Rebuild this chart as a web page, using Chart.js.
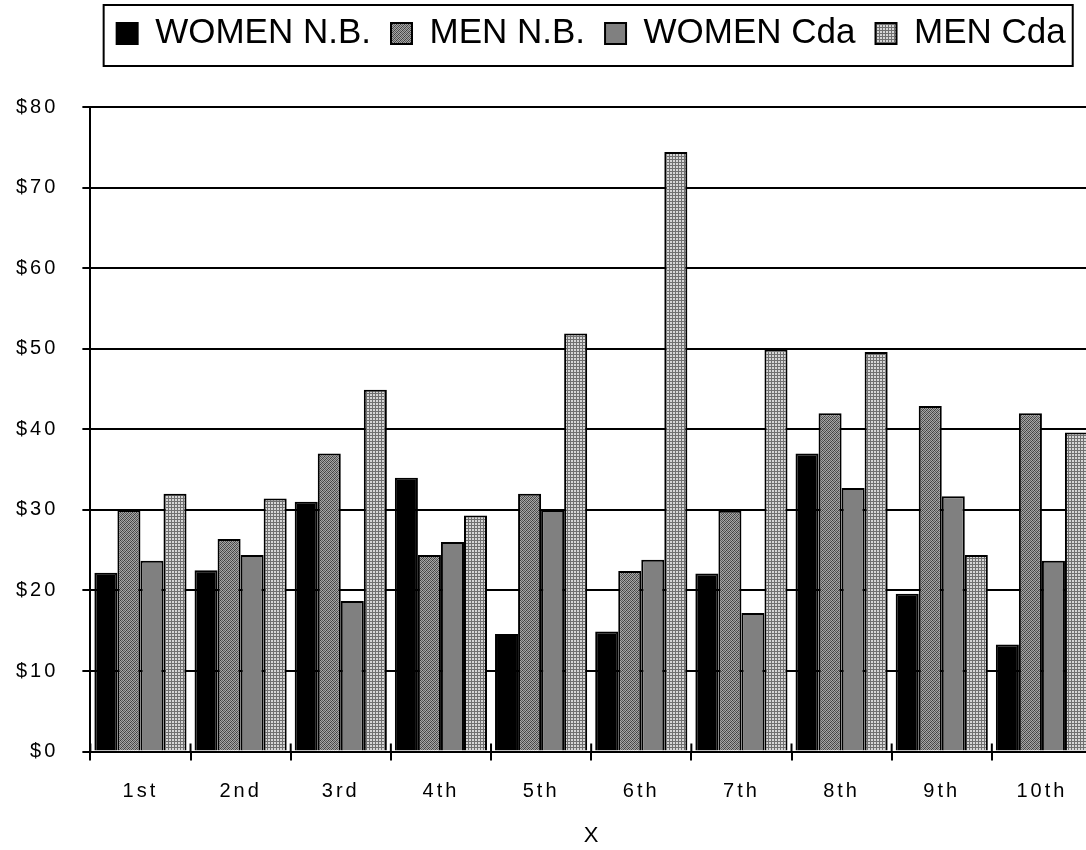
<!DOCTYPE html>
<html>
<head>
<meta charset="utf-8">
<script src="https://cdn.jsdelivr.net/npm/chart.js@4"></script>
<style>
html, body { margin: 0; padding: 0; overflow: hidden; background: #fff; }
#wrap { width: 1100px; height: 850px; }
</style>
</head>
<body>
<div id="wrap"><canvas id="chart"></canvas></div>
<script>
// values
const categories = ['1st', '2nd', '3rd', '4th', '5th', '6th', '7th', '8th', '9th', '10th'];
const womenNB  = [22.2, 22.5, 31.0, 34.0, 14.6, 14.9, 22.1, 37.0, 19.6, 13.3];
const menNB    = [30.0, 26.4, 37.0, 24.4, 32.0, 22.4, 29.9, 42.0, 42.9, 42.0];
const womenCda = [23.7, 24.4, 18.7, 26.0, 30.0, 23.8, 17.2, 32.7, 31.7, 23.7];
const menCda   = [32.0, 31.4, 44.9, 29.3, 51.9, 74.4, 49.9, 49.6, 24.4, 39.6];
const seriesNames = ['WOMEN N.B.', 'MEN N.B.', 'WOMEN Cda', 'MEN Cda'];
const axisTitle = 'X';

const FONT = "'Liberation Sans', Arial, sans-serif";
const canvas = document.getElementById('chart');
const ctx = canvas.getContext('2d');

function makePattern(size, paint) {
    const tile = document.createElement('canvas');
    tile.width = tile.height = size;
    paint(tile.getContext('2d'));
    return ctx.createPattern(tile, 'repeat');
}

// speckled dark grey
const speckle = makePattern(4, g => {
    const v = [[60, 160, 100, 170], [170, 90, 160, 70], [100, 170, 60, 160], [160, 70, 170, 90]];
    for (let y = 0; y < 4; y++) {
        for (let x = 0; x < 4; x++) {
            g.fillStyle = `rgb(${v[y][x]},${v[y][x]},${v[y][x]})`;
            g.fillRect(x, y, 1, 1);
        }
    }
});

// light grid
const gridFill = makePattern(3, g => {
    g.fillStyle = '#d6d6d6';
    g.fillRect(0, 0, 3, 3);
    g.fillStyle = '#707070';
    g.fillRect(0, 0, 3, 1);
    g.fillRect(0, 0, 1, 3);
});

const fills = ['#000000', speckle, '#808080', gridFill];
const values = [womenNB, menNB, womenCda, menCda];

// letter spaced tick labels
const spacedTicks = {
    id: 'spacedTicks',
    afterLayout(chart) {
        ['x', 'y'].forEach(id => {
            const s = chart.scales[id];
            if (!s || s._spaced) return;
            const orig = s.drawLabels;
            s.drawLabels = function(area) {
                this.ctx.save();
                this.ctx.letterSpacing = '3px';
                orig.call(this, area);
                this.ctx.restore();
            };
            s._spaced = true;
        });
    }
};

// room between legend and plot
const legendGap = {
    id: 'legendGap',
    beforeLayout(chart) {
        const lg = chart.legend;
        if (!lg || lg._gap) return;
        const fit = lg.fit;
        lg.fit = function() {
            fit.call(this);
            this.height += 46;
        };
        lg._gap = true;
    }
};

// legend frame and x ticks crossing the axis
const frames = {
    id: 'frames',
    afterDraw(chart) {
        const c = chart.ctx;
        const lg = chart.legend;
        const boxes = lg.legendHitBoxes;
        c.save();
        c.strokeStyle = '#000';
        c.lineWidth = 2;
        if (boxes && boxes.length) {
            const first = boxes[0];
            const last = boxes[boxes.length - 1];
            const x0 = first.left - 13;
            const x1 = last.left + last.width + 7;
            c.strokeRect(x0, lg.top + 9, x1 - x0, 61);
        }
        const x = chart.scales.x;
        const bottom = chart.chartArea.bottom;
        const half = (x.getPixelForValue(1) - x.getPixelForValue(0)) / 2;
        c.beginPath();
        for (let i = 0; i <= categories.length; i++) {
            const px = x.getPixelForValue(0) - half + i * half * 2;
            c.moveTo(px, bottom - 8);
            c.lineTo(px, bottom);
        }
        c.stroke();
        c.restore();
    }
};

new Chart(ctx, {
    type: 'bar',
    data: {
        labels: categories,
        datasets: seriesNames.map((name, i) => ({
            label: name,
            data: values[i],
            backgroundColor: fills[i],
            borderColor: '#000',
            borderWidth: 2,
            categoryPercentage: 0.92,
            barPercentage: 1.0
        }))
    },
    options: {
        responsive: true,
        maintainAspectRatio: false,
        animation: false,
        layout: {
            padding: { top: -4, left: 1, right: 8, bottom: 1 }
        },
        plugins: {
            legend: {
                position: 'top',
                fullSize: false,
                labels: {
                    color: '#000',
                    font: { family: FONT, size: 35 },
                    boxWidth: 21,
                    boxHeight: 21,
                    padding: 20
                }
            },
            tooltip: { enabled: false }
        },
        scales: {
            x: {
                grid: {
                    drawOnChartArea: false,
                    drawTicks: true,
                    tickLength: 9,
                    color: '#000',
                    lineWidth: 2
                },
                border: { color: '#000', width: 2, z: 1 },
                ticks: {
                    color: '#000',
                    font: { family: FONT, size: 20 },
                    padding: 19,
                    maxRotation: 0
                },
                title: {
                    display: true,
                    text: axisTitle,
                    color: '#000',
                    font: { family: FONT, size: 22 },
                    padding: { top: 0, bottom: 0 }
                }
            },
            y: {
                min: 0,
                max: 80,
                grid: {
                    color: '#000',
                    lineWidth: 2,
                    tickLength: 8
                },
                border: { color: '#000', width: 2, z: 1 },
                ticks: {
                    stepSize: 10,
                    color: '#000',
                    font: { family: FONT, size: 20 },
                    padding: 24,
                    callback: function(value) {
                        return '$' + value;
                    }
                }
            }
        }
    },
    plugins: [spacedTicks, legendGap, frames]
});
</script>
</body>
</html>
